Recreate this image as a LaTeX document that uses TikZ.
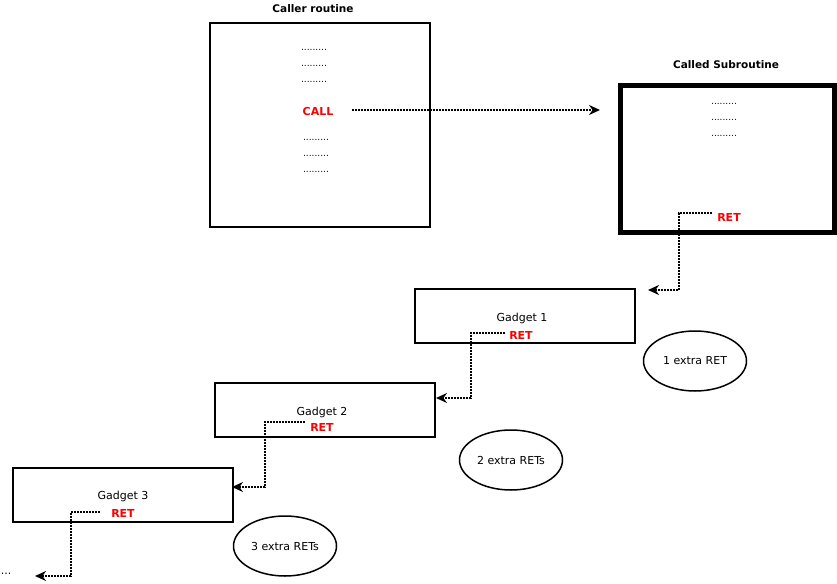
\documentclass[tikz,border=0pt]{standalone}
\usepackage{fontspec}
\setmainfont{DejaVu Sans}
\usetikzlibrary{positioning, shapes, calc, arrows.meta}

\begin{document}
\begin{tikzpicture}
        [
            x=1pt, y=-1pt,
            every node/.style={font=\fontsize{11}{13}\selectfont, inner sep=1pt},
            routine/.style={draw, line width=1.6pt},
            gadget/.style={draw, line width=1.6pt, minimum width=220pt, minimum height=54pt},
            extra/.style={ellipse, draw, line width=1.5pt, minimum width=103pt, minimum height=60pt},
            title/.style={font=\fontsize{10.5}{12}\selectfont\bfseries},
            ret/.style={text=red, font=\fontsize{11}{13}\selectfont\bfseries},
            filler/.style={font=\fontsize{9}{9}\selectfont},
            flow/.style={dash pattern=on 1.6pt off 1.4pt, line width=1.6pt, -{Stealth[length=11pt, width=10pt]}}
        ]
        \useasboundingbox (0,0) rectangle (837,583);
        % caller routine
        \draw [routine] (210,23) rectangle (430,227);
        \node (callerTitle) [title] at (313,9) {Caller routine};
        \foreach \y in {50,66,82} \node [filler] at (314,\y) {.........};
        \node (call) [ret] at (318,111) {CALL};
        \foreach \y in {140,156,172} \node [filler] at (316,\y) {.........};
        % called subroutine
        \draw [line width=5pt] (620,86) rectangle (834,232);
        \node (calledTitle) [title] at (726,65) {Called Subroutine};
        \foreach \y in {104,120,136} \node [filler] at (724,\y) {.........};
        \node (ret0) [ret] at (729,217) {RET};
        \coordinate (src) at (352,110);
        \coordinate (target) at (600,110);
        \draw [flow] (src) -- (target);
        % gadgets
        \node (g1) [gadget] at (525,316) {};
        \node [anchor=base] at (522,321) {Gadget 1};
        \node (ret1) [ret] at (521,335) {RET};
        \node (g2) [gadget] at (325,410) {};
        \node [anchor=base] at (322,415) {Gadget 2};
        \node (ret2) [ret] at (322,427) {RET};
        \node (g3) [gadget] at (123,495) {};
        \node [anchor=base] at (123,499) {Gadget 3};
        \node (ret3) [ret] at (123,513) {RET};
        \node (more) at (6,574) {...};
        % extra returns
        \node (e1) [extra] at (695,361) {1 extra RET};
        \node (e2) [extra] at (511,460) {2 extra RETs};
        \node (e3) [extra] at (285,546) {3 extra RETs};
        % return paths
        \coordinate (s0) at (712,213); \coordinate (c0) at (679,290); \coordinate (t0) at (648,290);
        \coordinate (s1) at (505,333); \coordinate (c1) at (471,398); \coordinate (t1) at (436,398);
        \coordinate (s2) at (305,422); \coordinate (c2) at (265,487); \coordinate (t2) at (232,487);
        \coordinate (s3) at (100,512); \coordinate (c3) at (71,576);  \coordinate (t3) at (35,576);
        \foreach \i in {0,...,3}
            \draw [flow] (s\i) -| (c\i) -- (t\i);
\end{tikzpicture}
\end{document}
